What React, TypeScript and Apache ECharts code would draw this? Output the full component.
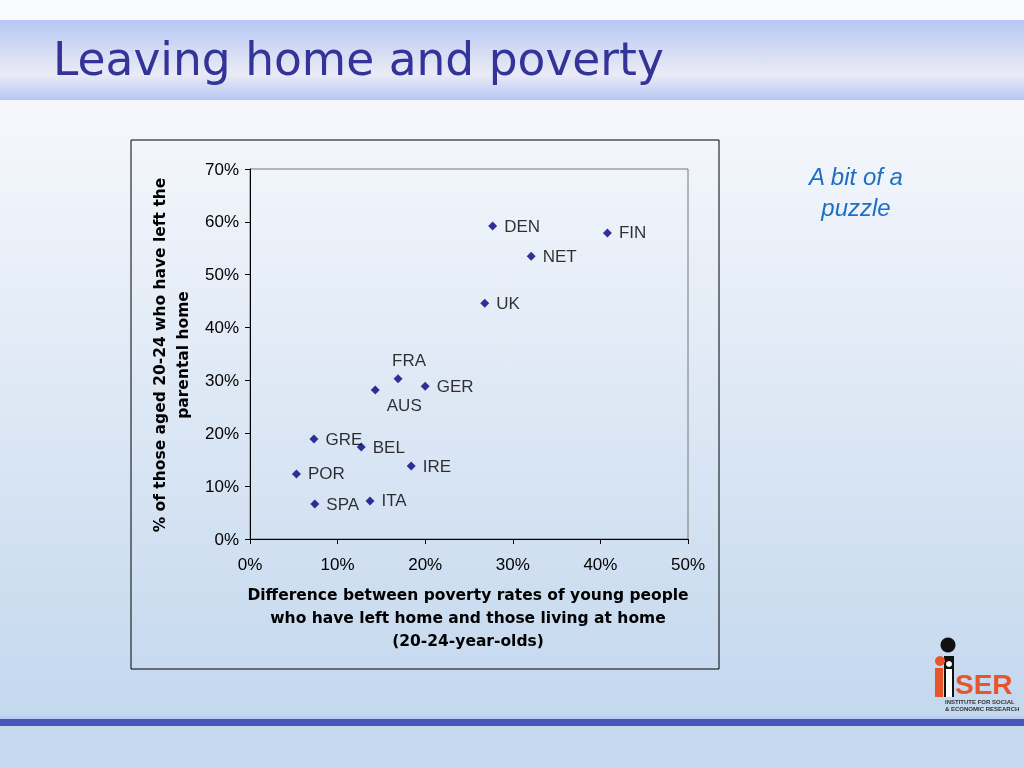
import React, { useEffect, useRef } from "react";
import * as echarts from "echarts";

const countries = ["DEN", "FIN", "NET", "UK", "FRA", "AUS", "GER", "GRE", "BEL", "IRE", "POR", "SPA", "ITA"];
const povertyDiff = [27.7, 40.8, 32.1, 26.8, 16.9, 14.3, 20.0, 7.3, 12.7, 18.4, 5.3, 7.4, 13.7];
const leftHome = [59.2, 57.9, 53.5, 44.6, 30.3, 28.2, 28.9, 18.9, 17.4, 13.8, 12.3, 6.6, 7.2];
const xTicks = [0, 10, 20, 30, 40, 50];
const yTicks = [0, 10, 20, 30, 40, 50, 60, 70];

const FONT = "'Liberation Sans', Arial, sans-serif";
const WIDE = "'DejaVu Sans', sans-serif";

export default function App() {
  const ref = useRef<HTMLDivElement>(null);
  useEffect(() => {
    if (!ref.current) return;
    const chart = echarts.init(ref.current, null, { renderer: "svg" });
    const data = countries.map((c, i) => {
      let label: any = { position: "right", distance: 7 };
      if (c === "FRA") label = { position: "top", distance: 5, offset: [11, 0] };
      if (c === "AUS") label = { position: "bottom", distance: 3, offset: [29, 0] };
      return { name: c, value: [povertyDiff[i] / 100, leftHome[i] / 100], label };
    });
    chart.setOption({
      animation: false,
      graphic: [
        {
          type: "rect", z: -10, silent: true,
          shape: { x: 0, y: 0, width: 1024, height: 768 },
          style: {
            fill: new echarts.graphic.LinearGradient(0, 0, 0, 1, [
              { offset: 0, color: "#fafbfe" },
              { offset: 0.15, color: "#f5f7fc" },
              { offset: 0.92, color: "#c4d8ee" },
              { offset: 1, color: "#c4d8ee" },
            ]),
          },
        },
        {
          type: "rect", z: -9, silent: true,
          shape: { x: 0, y: 20, width: 1024, height: 80 },
          style: {
            fill: new echarts.graphic.LinearGradient(0, 0, 0, 1, [
              { offset: 0, color: "#b7c7f4" },
              { offset: 0.68, color: "#eaebf5" },
              { offset: 1, color: "#b7c7f4" },
            ]),
          },
        },
        {
          type: "text", z: 5, left: 53, top: 36,
          style: {
            text: "Leaving home and poverty",
            fill: "#333399",
            font: "45.5px 'DejaVu Sans', sans-serif",
          },
        },
        {
          type: "rect", z: -8, silent: true,
          shape: { x: 0, y: 716, width: 1024, height: 3 },
          style: { fill: "#b8ccf4" },
        },
        {
          type: "rect", z: -8, silent: true,
          shape: { x: 0, y: 719, width: 1024, height: 7 },
          style: { fill: "#4858b8" },
        },
        {
          type: "rect", z: -7, silent: true,
          shape: { x: 131, y: 140, width: 588, height: 529 },
          style: { fill: "none", stroke: "#000000", lineWidth: 1 },
        },
        {
          type: "text", z: 5, x: 856, y: 191.5,
          style: {
            text: "A bit of a\npuzzle",
            fill: "#1f6fc4",
            font: "italic 24px " + FONT,
            align: "center",
            verticalAlign: "middle",
            lineHeight: 31,
          },
        },
        {
          type: "text", z: 5, x: 468, y: 618,
          style: {
            text: "Difference between poverty rates of young people\nwho have left home and those living at home\n(20-24-year-olds)",
            fill: "#000000",
            font: "bold 15.5px " + WIDE,
            align: "center",
            verticalAlign: "middle",
            lineHeight: 23,
          },
        },
        {
          type: "text", z: 5, x: 171, y: 355, rotation: Math.PI / 2,
          style: {
            text: "% of those aged 20-24 who have left the\nparental home",
            fill: "#000000",
            font: "bold 15.5px " + WIDE,
            align: "center",
            verticalAlign: "middle",
            lineHeight: 23,
          },
        },
        // logo
        { type: "circle", z: 5, shape: { cx: 948, cy: 645, r: 7.5 }, style: { fill: "#111111" } },
        { type: "rect", z: 5, shape: { x: 944, y: 656, width: 10, height: 41 }, style: { fill: "#111111" } },
        { type: "circle", z: 6, shape: { cx: 940, cy: 661, r: 5 }, style: { fill: "#e8542c" } },
        { type: "rect", z: 6, shape: { x: 935, y: 668, width: 8, height: 29 }, style: { fill: "#e8542c" } },
        { type: "circle", z: 6, shape: { cx: 949, cy: 664, r: 3 }, style: { fill: "#ffffff" } },
        { type: "rect", z: 6, shape: { x: 946, y: 669, width: 6, height: 28 }, style: { fill: "#ffffff" } },
        {
          type: "text", z: 6, x: 955, y: 698,
          style: { text: "SER", fill: "#e8542c", font: "bold 28px 'Liberation Sans Narrow', " + FONT, verticalAlign: "bottom" },
        },
        {
          type: "text", z: 6, x: 945, y: 699,
          style: { text: "INSTITUTE FOR SOCIAL", fill: "#333333", font: "bold 6px " + FONT, verticalAlign: "top" },
        },
        {
          type: "text", z: 6, x: 945, y: 706,
          style: { text: "& ECONOMIC RESEARCH", fill: "#333333", font: "bold 6px " + FONT, verticalAlign: "top" },
        },
      ],
      grid: {
        left: 250, top: 169, width: 438, height: 370,
        show: true, borderColor: "#777777", borderWidth: 1, backgroundColor: "transparent",
      },
      xAxis: {
        type: "value", min: 0, max: 0.5, interval: 0.1,
        axisLine: { show: true, onZero: false, lineStyle: { color: "#000000" } },
        axisTick: { show: true, length: 5, lineStyle: { color: "#000000" } },
        splitLine: { show: false },
        axisLabel: {
          color: "#000000", fontSize: 17, fontFamily: FONT, margin: 17,
          formatter: (v: number) => {
            const p = Math.round(v * 100);
            return xTicks.includes(p) ? p + "%" : "";
          },
        },
      },
      yAxis: {
        type: "value", min: 0, max: 0.7, interval: 0.1,
        axisLine: { show: true, onZero: false, lineStyle: { color: "#000000" } },
        axisTick: { show: true, length: 5, lineStyle: { color: "#000000" } },
        splitLine: { show: false },
        axisLabel: {
          color: "#000000", fontSize: 17, fontFamily: FONT, margin: 11,
          formatter: (v: number) => {
            const p = Math.round(v * 100);
            return yTicks.includes(p) ? p + "%" : "";
          },
        },
      },
      series: [
        {
          type: "scatter",
          symbol: "diamond",
          symbolSize: 9,
          itemStyle: { color: "#000080" },
          label: {
            show: true, formatter: "{b}", color: "#000000", fontSize: 17, fontFamily: FONT,
          },
          data,
        },
      ],
    });
    return () => chart.dispose();
  }, []);
  return <div ref={ref} style={{ position: "fixed", left: 0, top: 0, width: 1024, height: 768 }} />;
}
